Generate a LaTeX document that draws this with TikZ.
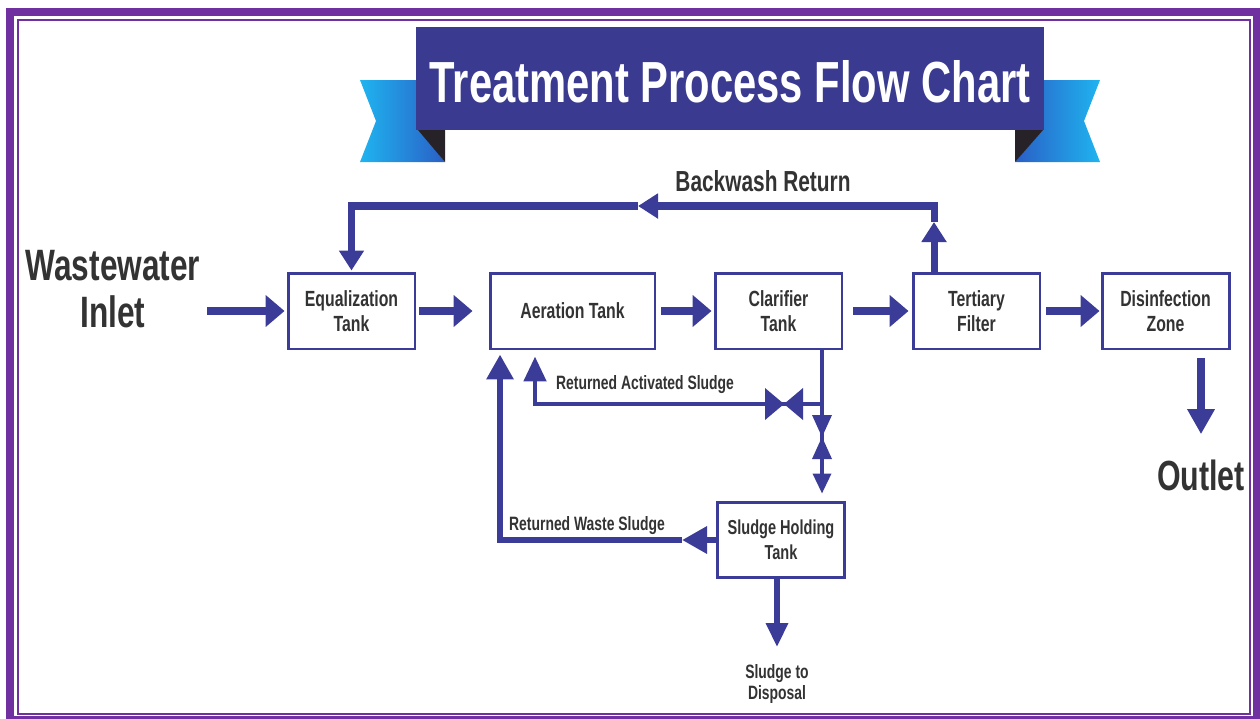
\documentclass[tikz,border=0pt]{standalone}
\usepackage{fontspec}
\newfontfamily\condfont[FakeStretch=0.72]{Liberation Sans}
\usetikzlibrary{arrows.meta}
\definecolor{pipeblue}{HTML}{3B3B98}
\definecolor{bannerblue}{HTML}{3A3A90}
\definecolor{framepurple}{HTML}{7030A0}
\definecolor{txtgrey}{HTML}{333333}
\definecolor{tailcyan}{HTML}{1FB4F0}
\definecolor{taildark}{HTML}{2A5FC6}
\definecolor{foldgrey}{HTML}{262228}

\tikzset{
  unit/.style={draw=pipeblue, line width=1.7pt, fill=white, minimum width=2.54cm,
    minimum height=1.52cm, align=center, text=txtgrey, inner sep=2pt,
    font=\condfont\bfseries\fontsize{12.5}{14.2}\selectfont},
  lbl/.style={text=txtgrey, inner sep=0pt, align=center,
    font=\condfont\bfseries\fontsize{11}{12}\selectfont},
  biglbl/.style={text=txtgrey, inner sep=0pt, align=center,
    font=\condfont\bfseries\fontsize{25}{27}\selectfont},
  flow/.style={pipeblue, line width=5pt, -{Triangle[length=0.38cm,width=0.62cm]}},
  outflow/.style={pipeblue, line width=4.5pt, -{Triangle[length=0.5cm,width=0.52cm]}},
  backflow/.style={pipeblue, line width=4pt, -{Triangle[length=0.4cm,width=0.48cm]}},
  rasflow/.style={pipeblue, line width=2.8pt, -{Triangle[length=0.5cm,width=0.44cm]}},
  thinpipe/.style={pipeblue, line width=2pt, -{Triangle[length=0.4cm,width=0.36cm]}},
  rwsflow/.style={pipeblue, line width=3.7pt, -{Triangle[length=0.5cm,width=0.52cm]}},
  dispflow/.style={pipeblue, line width=3.4pt, -{Triangle[length=0.48cm,width=0.42cm]}}
}

\begin{document}
\begin{tikzpicture}[x=0.02cm,y=-0.02cm]
\useasboundingbox (0,0) rectangle (1260,718);

% frame
\draw[framepurple, line width=4.5pt] (10,12) rectangle (1257,720);
\draw[framepurple, line width=1.1pt] (17.7,19.7) rectangle (1250.3,714);

% banner
\shade[left color=tailcyan, right color=taildark] (360,80) -- (420,80) -- (420,130) -- (445,162) -- (360,162) -- (376,121) -- cycle;
\fill[foldgrey] (418,130) -- (445,130) -- (445,162) -- cycle;
\shade[left color=taildark, right color=tailcyan] (1100,80) -- (1040,80) -- (1040,130) -- (1015,162) -- (1100,162) -- (1084,121) -- cycle;
\fill[foldgrey] (1043,130) -- (1015,130) -- (1015,162) -- cycle;
\fill[bannerblue] (416,27) rectangle (1044,130);
\node[text=white, inner sep=0pt, font=\condfont\bfseries\fontsize{33}{36}\selectfont] (title) at (730,82) {Treatment Process Flow Chart};

% units
\node[unit] (eq) at (351.5,311) {Equalization\\Tank};
\node[unit, minimum width=3.3cm] (aer) at (572.5,311) {Aeration Tank};
\node[unit] (clar) at (778.5,311) {Clarifier\\Tank};
\node[unit] (tert) at (976.5,311) {Tertiary\\Filter};
\node[unit] (dis) at (1165.5,311) {Disinfection\\Zone};
\node[unit, minimum height=1.5cm, font=\condfont\bfseries\fontsize{11.5}{14}\selectfont] (hold) at (781,539.5) {Sludge Holding\\Tank};

% texts
\node[biglbl] (inlet) at (113,289) {Wastewater\\Inlet};
\node[biglbl, font=\condfont\bfseries\fontsize{24}{27}\selectfont] (outlet) at (1201,475) {Outlet};
\node[lbl, font=\condfont\bfseries\fontsize{16.5}{18}\selectfont] (bwlabel) at (763,181) {Backwash Return};
\node[lbl] (raslabel) at (645,385) {Returned Activated Sludge};
\node[lbl] (rwslabel) at (587,526) {Returned Waste Sludge};
\node[lbl] (disp) at (777,684) {Sludge to\\Disposal};

% main line
\coordinate (src) at (207,311);
\draw[flow, shorten >=0.04cm] (src) -- (eq);
\draw[flow, shorten <=0.06cm, shorten >=0.32cm] (eq) -- (aer);
\draw[flow, shorten <=0.1cm, shorten >=0.04cm] (aer) -- (clar);
\draw[flow, shorten <=0.2cm, shorten >=0.06cm] (clar) -- (tert);
\draw[flow, shorten <=0.1cm, shorten >=0.02cm] (tert) -- (dis);
\draw[outflow, shorten <=0.16cm, shorten >=0.5cm] (dis.south -| outlet) -- (outlet.north);

% backwash
\coordinate (bwr) at (934,206);
\coordinate (bwup) at (934,222);
\coordinate (bwmid) at (638,206);
\draw[backflow] (tert.north -| bwr) -- (bwup);
\draw[backflow] (bwup) -- (bwr) -- (bwmid);
\draw[backflow, shorten >=0.02cm] (bwmid) -| (eq.north);

% returned activated sludge
\coordinate (junc) at (822,404);
\coordinate (hvalve) at (784,404);
\coordinate (vvalve) at (822,437);
\draw[thinpipe, shorten >=0.14cm] (clar.south -| junc) -- (hold.north -| junc);
\draw[rasflow, shorten >=0.12cm] (junc) -| ([xshift=-0.75cm]aer.south);
\fill[pipeblue] (hvalve) -- ++(-19,-16) -- ++(0,32) -- cycle;
\fill[pipeblue] (hvalve) -- ++(19,-16) -- ++(0,32) -- cycle;
\fill[pipeblue] (vvalve) -- ++(-10,-22) -- ++(20,0) -- cycle;
\fill[pipeblue] (vvalve) -- ++(-10,22) -- ++(20,0) -- cycle;

% returned waste sludge
\coordinate (rwshead) at (682,540);
\draw[rwsflow] (hold.west |- rwshead) -- (rwshead);
\draw[rwsflow, shorten >=0.08cm] (rwshead) -| ([xshift=-1.45cm]aer.south);

% disposal
\draw[dispflow, shorten >=0.34cm] (hold.south -| disp) -- (disp.north);

\end{tikzpicture}
\end{document}
